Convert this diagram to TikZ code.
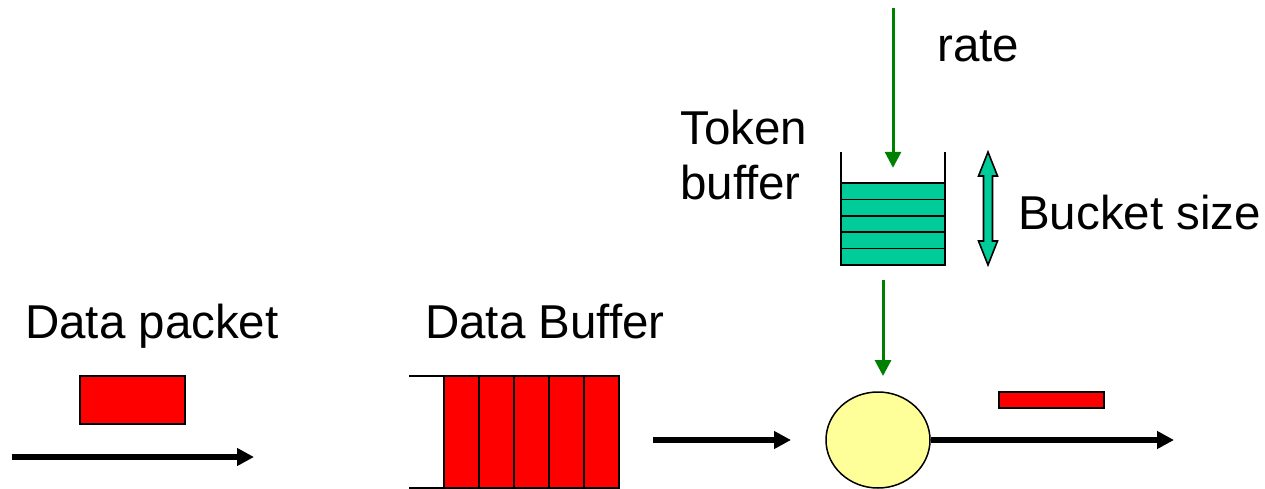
\documentclass[tikz,border=0pt]{standalone}
\usepackage{fontspec}
\setmainfont{Liberation Sans}
\usetikzlibrary{arrows.meta,shapes.geometric}
\definecolor{tokgreen}{RGB}{0,204,153}
\definecolor{arrgreen}{RGB}{0,128,0}
\definecolor{pktred}{RGB}{255,0,0}
\definecolor{gateyellow}{RGB}{255,255,153}
\tikzset{
  lbl/.style={anchor=base west,inner sep=0pt,font=\fontsize{47.5}{56}\selectfont},
  blackarrow/.style={line width=5.5pt,-{Triangle[length=17pt,width=17pt]}},
  greenarrow/.style={draw=arrgreen,line width=3pt,-{Triangle[length=16pt,width=16pt]},arrgreen},
  packet/.style={draw=black,line width=1.2pt,fill=pktred},
  cell/.style={draw=black,line width=1.6pt,fill=pktred},
  tokrow/.style={draw=black,line width=1.6pt,fill=tokgreen},
}
\begin{document}
\begin{tikzpicture}[x=1pt,y=-1pt]
\useasboundingbox (0,0) rectangle (1265,489);
% texts
\node[lbl] (tdp) at (25,338) {Data packet};
\node[lbl] (tdb) at (425,338) {Data Buffer};
\node[lbl] (trate) at (937,62) {rate};
\node[lbl] (ttok) at (680,145) {Token};
\node[lbl] (tbuf) at (680,200) {buffer};
\node[lbl] (tbs) at (1018,229) {Bucket size};
% data packet
\draw[packet] (80,376) rectangle (185,424);
\coordinate (a1s) at (12,457);
\coordinate (a1e) at (254,457);
\draw[blackarrow] (a1s) -- (a1e);
% data buffer
\draw[line width=1.6pt] (409,376) -- (444,376);
\draw[line width=1.6pt] (409,488) -- (444,488);
\foreach \x in {444,479,514,549,584} {
  \draw[cell] (\x,376) rectangle ++(35,112);
}
\coordinate (a2s) at (653,440);
\coordinate (a2e) at (791,440);
\draw[blackarrow] (a2s) -- (a2e);
% gate
\node[ellipse,draw=black,line width=1.5pt,fill=gateyellow,minimum width=104pt,minimum height=96pt,inner sep=0pt] (gate) at (878,440) {};
\coordinate (a3e) at (1174,440);
\draw[blackarrow] (gate.east) -- (a3e);
\draw[packet] (999,392) rectangle (1104,408);
% token bucket
\foreach \y in {183,199.4,215.8,232.2,248.6} {
  \draw[tokrow] (841,\y) rectangle ++(104,16.4);
}
\draw[line width=2pt] (841,152) -- (841,265) -- (945,265) -- (945,152);
\node[inner sep=0pt,minimum width=104pt,minimum height=113pt] (bucket) at (893,208.5) {};
\coordinate (rtop) at (893,8);
\draw[greenarrow] (rtop) -- ([yshift=-16pt]bucket.north);
\coordinate (g2s) at (883,280);
\coordinate (g2e) at (883,376);
\draw[greenarrow] (g2s) -- (g2e);
% bucket size double arrow
\draw[line width=1.6pt,fill=tokgreen,line join=miter]
  (988,152) -- (997.5,176) -- (992.5,176) -- (992.5,241) -- (997.5,241)
  -- (988,265) -- (978.5,241) -- (983.5,241) -- (983.5,176) -- (978.5,176) -- cycle;
\end{tikzpicture}
\end{document}
